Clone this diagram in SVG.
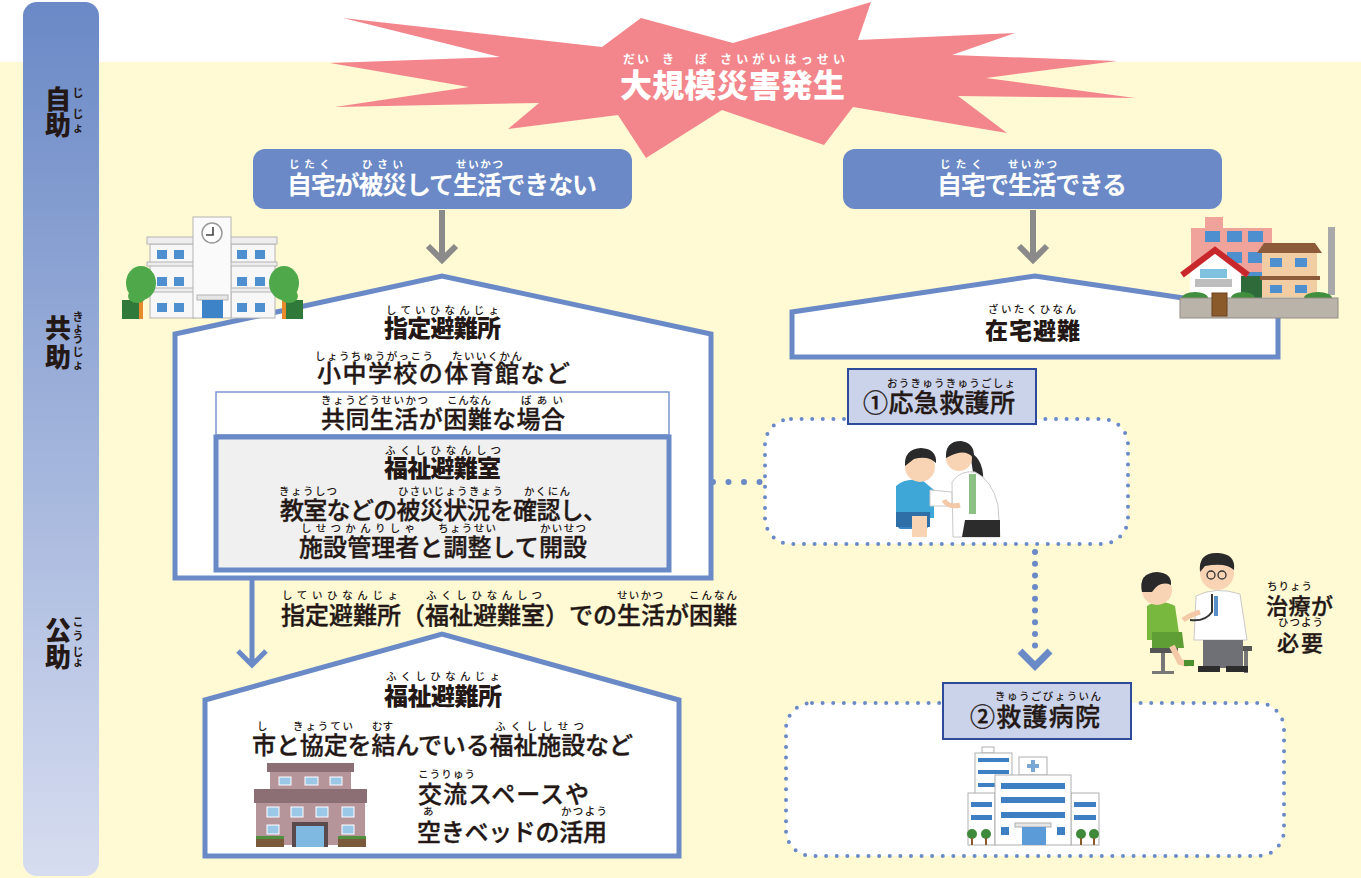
<svg xmlns="http://www.w3.org/2000/svg" width="1361" height="878" viewBox="0 0 1361 878">
<defs>
  <linearGradient id="sideGrad" x1="0" y1="0" x2="0" y2="1">
    <stop offset="0" stop-color="#6A89C6"/>
    <stop offset="1" stop-color="#D7DDF0"/>
  </linearGradient>
</defs>
<style>
  text { font-family: "Noto Sans CJK JP", "Noto Sans CJK SC", sans-serif; fill: #231815; }
  .rb { font-size: 10.5px; font-weight: 500; }
  .m { font-size: 24px; font-weight: 500; stroke: #231815; stroke-width: 0.35; }
  .h { font-size: 24px; font-weight: 900; }
  .w { fill: #ffffff; }
  .side { font-size: 26px; font-weight: 900; }
  .srb { font-size: 11px; font-weight: 700; }
  .house { fill: #ffffff; stroke: #6A89C7; stroke-width: 5; }
  .tag { fill: #CBD3EB; stroke: #2D4A9B; stroke-width: 2; }
  .dotbox { fill: #ffffff; stroke: #6A89C7; stroke-width: 4; stroke-dasharray: 0 10.6; stroke-linecap: round; }
  .bluebox { fill: #6A89C6; }
  .gray-arrow { fill: none; stroke: #8A8A8A; stroke-width: 6; }
  .blue-arrow { fill: none; stroke: #6A89C7; stroke-width: 5; }
  .dots { fill: none; stroke: #6A89C7; stroke-width: 6; stroke-linecap: round; }
  .win { fill: #4D8FCF; }
  .skin { fill: #F8D4B4; }
  .hair { fill: #2A2A2A; }
</style>

<!-- background -->
<rect x="0" y="0" width="1361" height="878" fill="#ffffff"/>
<rect x="0" y="62" width="1361" height="816" fill="#FFF9D4"/>

<!-- side band -->
<g id="side-band">
  <rect x="23" y="2" width="76" height="874" rx="14" fill="url(#sideGrad)"/>
  <text class="side" x="58" y="109" text-anchor="middle">自</text>
  <text class="side" x="58" y="135" text-anchor="middle">助</text>
  <text class="srb" x="78" y="97" text-anchor="middle">じ</text>
  <text class="srb" x="78" y="118" text-anchor="middle">じ</text>
  <text class="srb" x="78" y="132" text-anchor="middle">ょ</text>

  <text class="side" x="58" y="338" text-anchor="middle">共</text>
  <text class="side" x="58" y="367" text-anchor="middle">助</text>
  <text class="srb" x="78" y="321" text-anchor="middle">き</text>
  <text class="srb" x="78" y="332" text-anchor="middle">ょ</text>
  <text class="srb" x="78" y="343" text-anchor="middle">う</text>
  <text class="srb" x="78" y="356" text-anchor="middle">じ</text>
  <text class="srb" x="78" y="369" text-anchor="middle">ょ</text>

  <text class="side" x="58" y="640" text-anchor="middle">公</text>
  <text class="side" x="58" y="667" text-anchor="middle">助</text>
  <text class="srb" x="78" y="626" text-anchor="middle">こ</text>
  <text class="srb" x="78" y="640" text-anchor="middle">う</text>
  <text class="srb" x="78" y="656" text-anchor="middle">じ</text>
  <text class="srb" x="78" y="666" text-anchor="middle">ょ</text>
</g>

<!-- disaster burst -->
<g id="disaster">
  <polygon fill="#F3868C" points="343,18 602,47 641,18 733,43 871,2 858,40 1015,33 952,55 1117,61 986,78 1135,98 958,96 1007,133 853,107 824,145 722,110 646,158 618,115 508,129 539,103 335,107 469,87 330,63 500,57"/>
  <text class="rb w" x="623" y="64" textLength="26" style="font-size:12px;font-weight:700">だい</text>
  <text class="rb w" x="662" y="64" style="font-size:12px;font-weight:700">き</text>
  <text class="rb w" x="695" y="64" style="font-size:12px;font-weight:700">ぼ</text>
  <text class="rb w" x="720" y="64" textLength="125" style="font-size:12px;font-weight:700">さいがいはっせい</text>
  <text class="w" x="620" y="97" textLength="225" style="font-size:32px;font-weight:900">大規模災害発生</text>
</g>

<!-- left case heading -->
<g id="cannot-live-home">
  <rect class="bluebox" x="253" y="149" width="379" height="60" rx="12"/>
  <text class="rb w" x="289" y="168" textLength="41" style="font-weight:700">じたく</text>
  <text class="rb w" x="362" y="168" textLength="41" style="font-weight:700">ひさい</text>
  <text class="rb w" x="456" y="168" textLength="47" style="font-weight:700">せいかつ</text>
  <text class="w" x="287" y="194" textLength="310" style="font-size:25px;font-weight:700">自宅が被災して生活できない</text>
</g>

<!-- right case heading -->
<g id="can-live-home">
  <rect class="bluebox" x="843" y="149" width="379" height="60" rx="12"/>
  <text class="rb w" x="940" y="168" textLength="42" style="font-weight:700">じたく</text>
  <text class="rb w" x="1008" y="168" textLength="49" style="font-weight:700">せいかつ</text>
  <text class="w" x="937" y="194" textLength="190" style="font-size:25px;font-weight:700">自宅で生活できる</text>
</g>

<!-- designated shelter -->
<g id="designated-shelter">
  <polygon class="house" points="175,578 175,334 442,276 711,334 711,578"/>
  <text class="rb" x="386" y="314" textLength="113">していひなんじょ</text>
  <text class="h" x="384" y="337" textLength="117">指定避難所</text>
  <text class="rb" x="315" y="360" textLength="118">しょうちゅうがっこう</text>
  <text class="rb" x="452" y="360" textLength="70">たいいくかん</text>
  <text class="m" x="317" y="382" textLength="253">小中学校の体育館など</text>

  <rect x="216" y="392" width="453" height="43" fill="#ffffff" stroke="#7D97CF" stroke-width="1.5"/>
  <text class="rb" x="321" y="404" textLength="107">きょうどうせいかつ</text>
  <text class="rb" x="447" y="404" textLength="44">こんなん</text>
  <text class="rb" x="521" y="404" textLength="42">ばあい</text>
  <text class="m" x="321" y="428" textLength="244">共同生活が困難な場合</text>
</g>

<!-- welfare room inside the shelter -->
<g id="welfare-room">
  <rect x="216" y="437" width="453" height="133" fill="#F0F0F0" stroke="#6A89C7" stroke-width="5"/>
  <text class="rb" x="385" y="454" textLength="116">ふくしひなんしつ</text>
  <text class="h" x="384" y="477" textLength="117">福祉避難室</text>
  <text class="rb" x="279" y="495" textLength="58">きょうしつ</text>
  <text class="rb" x="398" y="495" textLength="105">ひさいじょうきょう</text>
  <text class="rb" x="524" y="495" textLength="46">かくにん</text>
  <text class="m" x="280" y="519" textLength="327">教室などの被災状況を確認し、</text>
  <text class="rb" x="301" y="532" textLength="114">しせつかんりしゃ</text>
  <text class="rb" x="438" y="532" textLength="58">ちょうせい</text>
  <text class="rb" x="540" y="532" textLength="46">かいせつ</text>
  <text class="m" x="299" y="556" textLength="288">施設管理者と調整して開設</text>
</g>

<!-- school picture -->
<g id="school">
  <rect x="122" y="300" width="17" height="19" fill="#2F7A3B"/>
  <rect x="285" y="300" width="18" height="19" fill="#2F7A3B"/>
  <rect x="150" y="244" width="45" height="74" fill="#F7F7F7" stroke="#B4B4B4"/>
  <rect x="231" y="244" width="44" height="74" fill="#F7F7F7" stroke="#B4B4B4"/>
  <rect x="147" y="237" width="48" height="7" fill="#EDEDED" stroke="#B4B4B4"/>
  <rect x="229" y="237" width="48" height="7" fill="#EDEDED" stroke="#B4B4B4"/>
  <rect x="147" y="262" width="48" height="4" fill="#EDEDED" stroke="#B4B4B4"/>
  <rect x="229" y="262" width="48" height="4" fill="#EDEDED" stroke="#B4B4B4"/>
  <rect x="147" y="288" width="48" height="4" fill="#EDEDED" stroke="#B4B4B4"/>
  <rect x="229" y="288" width="48" height="4" fill="#EDEDED" stroke="#B4B4B4"/>
  <rect x="193" y="217" width="38" height="101" fill="#FAFAFA" stroke="#B4B4B4"/>
  <circle cx="212" cy="233" r="10" fill="#ffffff" stroke="#9A9A9A" stroke-width="1.5"/>
  <path d="M213,227 V235 H206" fill="none" stroke="#444" stroke-width="1.6"/>
  <rect class="win" x="157" y="250" width="10" height="9"/>
  <rect class="win" x="174" y="250" width="10" height="9"/>
  <rect class="win" x="237" y="250" width="10" height="9"/>
  <rect class="win" x="255" y="250" width="10" height="9"/>
  <rect class="win" x="157" y="277" width="10" height="9"/>
  <rect class="win" x="174" y="277" width="10" height="9"/>
  <rect class="win" x="237" y="277" width="10" height="9"/>
  <rect class="win" x="255" y="277" width="10" height="9"/>
  <rect class="win" x="157" y="303" width="10" height="9"/>
  <rect class="win" x="174" y="303" width="10" height="9"/>
  <rect class="win" x="237" y="303" width="10" height="9"/>
  <rect class="win" x="255" y="303" width="10" height="9"/>
  <rect x="197" y="295" width="31" height="5" fill="#E6E6E6" stroke="#B4B4B4"/>
  <rect x="202" y="300" width="21" height="18" fill="#3D83C8"/>
  <rect x="139" y="292" width="4" height="27" fill="#E8892B"/>
  <ellipse cx="141" cy="283" rx="15" ry="17" fill="#4FA84A"/>
  <ellipse cx="137" cy="296" rx="9" ry="7" fill="#4FA84A"/>
  <rect x="282" y="292" width="4" height="27" fill="#E8892B"/>
  <ellipse cx="284" cy="283" rx="15" ry="17" fill="#4FA84A"/>
  <ellipse cx="289" cy="296" rx="9" ry="7" fill="#4FA84A"/>
</g>

<!-- stay at home -->
<g id="home-shelter">
  <polygon class="house" points="792,357 792,312 1035,276 1278,312 1278,357"/>
  <text class="rb" x="988" y="313" textLength="88">ざいたくひなん</text>
  <text class="h" x="985" y="339" textLength="95" style="font-size:23px">在宅避難</text>
</g>

<!-- houses picture -->
<g id="houses">
  <rect x="1205" y="217" width="18" height="12" fill="#EFA39A"/>
  <rect x="1191" y="228" width="81" height="69" fill="#EFA39A"/>
  <rect class="win" x="1205" y="231" width="15" height="11"/>
  <rect class="win" x="1227" y="231" width="15" height="11"/>
  <rect class="win" x="1248" y="231" width="15" height="11"/>
  <rect class="win" x="1227" y="252" width="15" height="11"/>
  <rect class="win" x="1248" y="252" width="15" height="11"/>
  <rect class="win" x="1248" y="272" width="15" height="11"/>
  <rect x="1240" y="276" width="22" height="24" fill="#2F6B3A"/>
  <rect x="1262" y="250" width="55" height="47" fill="#F2CDA4"/>
  <polygon points="1257,253 1264,243 1315,243 1322,253" fill="#8E5B3A"/>
  <rect x="1260" y="276" width="60" height="4" fill="#8E5B3A"/>
  <rect class="win" x="1270" y="258" width="12" height="9"/>
  <rect class="win" x="1295" y="258" width="12" height="9"/>
  <rect class="win" x="1270" y="285" width="12" height="8"/>
  <rect class="win" x="1295" y="285" width="12" height="8"/>
  <rect x="1328" y="227" width="7" height="68" fill="#A9A9A9"/>
  <polygon points="1190,300 1190,267 1215,252 1241,267 1241,300" fill="#ffffff"/>
  <rect x="1200" y="269" width="27" height="9" fill="#7FC2E0"/>
  <rect x="1195" y="279" width="37" height="8" fill="#BDBDBD"/>
  <polyline points="1182,275 1215,250 1248,275" fill="none" stroke="#C8282C" stroke-width="6"/>
  <ellipse cx="1195" cy="298" rx="13" ry="6" fill="#3F8F3E"/>
  <ellipse cx="1243" cy="298" rx="12" ry="6" fill="#3F8F3E"/>
  <ellipse cx="1318" cy="298" rx="14" ry="6" fill="#3F8F3E"/>
  <rect x="1180" y="298" width="158" height="20" fill="#BAB3AA" stroke="#948C83"/>
  <rect x="1212" y="293" width="15" height="23" fill="#8B5A2B" stroke="#6B421D"/>
</g>

<!-- first aid station -->
<g id="first-aid">
  <rect class="dotbox" x="765" y="419" width="363" height="125" rx="26"/>
  <rect class="tag" x="848" y="369" width="188" height="55"/>
  <text class="rb" x="887" y="387" textLength="128">おうきゅうきゅうごしょ</text>
  <text class="m" x="863" y="412" textLength="152" style="font-size:25px">①応急救護所</text>
  <!-- boy getting first aid -->
  <rect x="898" y="522" width="30" height="7" rx="3" fill="#3B83C1"/>
  <path d="M896,486 Q905,478 922,480 L934,490 L934,518 L896,518 Z" fill="#3FA6D8"/>
  <path d="M896,512 L930,512 L930,527 L896,527 Z" fill="#2F6FA8"/>
  <rect class="skin" x="912" y="516" width="15" height="21"/>
  <circle class="skin" cx="920" cy="467" r="15"/>
  <path d="M905,466 Q904,449 921,448 Q937,449 936,463 Q928,455 914,459 Z" class="hair"/>
  <path d="M930,490 L952,492 L952,506 L930,506 Z" fill="#ffffff" stroke="#C9C9C9"/>
  <!-- nurse -->
  <path d="M970,452 Q985,460 983,485 L975,486 Z" class="hair"/>
  <path d="M952,482 Q960,470 975,472 Q992,480 998,505 L1000,537 L953,537 Z" fill="#ffffff" stroke="#C9C9C9"/>
  <rect x="969" y="474" width="7" height="40" fill="#8CC084"/>
  <path d="M960,505 Q948,508 944,500" fill="none" stroke="#F3C9A7" stroke-width="5"/>
  <path d="M965,520 L1000,520 L1000,537 L962,537 Z" fill="#2C2C2C"/>
  <circle class="skin" cx="959" cy="458" r="13"/>
  <path d="M946,458 Q945,441 961,441 Q975,443 974,458 Q965,448 950,456 Z" class="hair"/>
</g>

<!-- doctor consultation picture and label -->
<g id="treatment-needed">
  <rect x="1150" y="648" width="28" height="5" fill="#555"/>
  <rect x="1161" y="653" width="4" height="20" fill="#777"/>
  <rect x="1152" y="671" width="22" height="3" fill="#777"/>
  <rect x="1230" y="646" width="22" height="5" fill="#555"/>
  <rect x="1244" y="651" width="4" height="22" fill="#777"/>
  <path d="M1147,606 Q1160,598 1175,606 L1180,640 L1147,640 Z" fill="#79B83F"/>
  <path d="M1152,632 L1182,632 L1184,648 L1152,648 Z" fill="#5E9E34"/>
  <path d="M1172,646 L1180,662 L1188,664" fill="none" stroke="#F3C9A7" stroke-width="6"/>
  <rect x="1184" y="660" width="10" height="6" fill="#4C8F2E"/>
  <circle class="skin" cx="1157" cy="590" r="15"/>
  <path d="M1142,592 Q1138,573 1157,572 Q1172,573 1171,585 Q1160,580 1152,592 Z" class="hair"/>
  <path d="M1196,596 Q1215,586 1240,594 L1247,640 L1194,640 Z" fill="#ffffff" stroke="#C9C9C9"/>
  <path d="M1203,640 L1243,640 L1243,668 L1203,668 Z" fill="#6E7075"/>
  <rect x="1198" y="666" width="22" height="6" fill="#2C2C2C"/>
  <rect x="1226" y="666" width="22" height="6" fill="#2C2C2C"/>
  <path d="M1212,594 L1212,612 Q1205,622 1190,620" fill="none" stroke="#333" stroke-width="2"/>
  <path d="M1200,612 Q1190,615 1183,620" fill="none" stroke="#F3C9A7" stroke-width="5"/>
  <rect x="1214" y="596" width="4" height="20" fill="#5A8FC8"/>
  <circle class="skin" cx="1217" cy="573" r="17"/>
  <path d="M1200,572 Q1198,552 1218,553 Q1236,554 1234,570 Q1226,562 1205,566 Z" class="hair"/>
  <circle cx="1211" cy="575" r="4" fill="none" stroke="#333" stroke-width="1.3"/>
  <circle cx="1222" cy="575" r="4" fill="none" stroke="#333" stroke-width="1.3"/>
  <text class="rb" x="1267" y="590" textLength="45">ちりょう</text>
  <text class="m" x="1266" y="614" textLength="67" style="font-size:22px">治療が</text>
  <text class="rb" x="1278" y="626" textLength="45">ひつよう</text>
  <text class="m" x="1277" y="651" textLength="46" style="font-size:22px">必要</text>
</g>

<!-- rescue hospital -->
<g id="hospital">
  <rect class="dotbox" x="786" y="703" width="498" height="153" rx="26"/>
  <rect class="tag" x="943" y="683" width="188" height="56"/>
  <text class="rb" x="995" y="700" textLength="106">きゅうごびょういん</text>
  <text class="m" x="970" y="726" textLength="130" style="font-size:25px">②救護病院</text>
  <rect x="982" y="747" width="12" height="6" fill="#fff" stroke="#AFAFAF"/>
  <rect x="975" y="753" width="37" height="44" fill="#fff" stroke="#AFAFAF"/>
  <rect x="978" y="758" width="31" height="4" fill="#3E7FC4"/>
  <rect x="978" y="770" width="31" height="4" fill="#3E7FC4"/>
  <rect x="978" y="783" width="31" height="4" fill="#3E7FC4"/>
  <rect x="1019" y="757" width="28" height="18" fill="#fff" stroke="#AFAFAF"/>
  <path d="M1033,760 V772 M1027,766 H1039" stroke="#7BA7D6" stroke-width="4"/>
  <rect x="968" y="793" width="27" height="52" fill="#fff" stroke="#AFAFAF"/>
  <rect x="1071" y="793" width="28" height="52" fill="#fff" stroke="#AFAFAF"/>
  <rect x="995" y="775" width="76" height="70" fill="#fff" stroke="#AFAFAF"/>
  <rect x="1001" y="783" width="64" height="6" fill="#3E7FC4"/>
  <rect x="1001" y="797" width="64" height="6" fill="#3E7FC4"/>
  <rect x="1001" y="812" width="64" height="6" fill="#3E7FC4"/>
  <rect x="971" y="802" width="21" height="5" fill="#3E7FC4"/>
  <rect x="971" y="815" width="21" height="5" fill="#3E7FC4"/>
  <rect x="1074" y="802" width="22" height="5" fill="#3E7FC4"/>
  <rect x="1074" y="815" width="22" height="5" fill="#3E7FC4"/>
  <rect x="1001" y="827" width="8" height="8" fill="#3E7FC4"/>
  <rect x="1057" y="827" width="8" height="8" fill="#3E7FC4"/>
  <rect x="1015" y="823" width="36" height="4" fill="#E6E6E6" stroke="#AFAFAF"/>
  <rect x="1022" y="827" width="24" height="18" fill="#5A9BD8"/>
  <g fill="#3F8A3A">
    <circle cx="972" cy="834" r="5"/><circle cx="986" cy="834" r="5"/>
    <circle cx="1081" cy="834" r="5"/><circle cx="1094" cy="834" r="5"/>
  </g>
  <g fill="#8A5A2B">
    <rect x="971" y="838" width="2" height="7"/><rect x="985" y="838" width="2" height="7"/>
    <rect x="1080" y="838" width="2" height="7"/><rect x="1093" y="838" width="2" height="7"/>
  </g>
</g>

<!-- welfare shelter -->
<g id="welfare-shelter">
  <polygon class="house" points="205,856 205,700 442,634 679,700 679,856"/>
  <text class="rb" x="386" y="680" textLength="114">ふくしひなんじょ</text>
  <text class="h" x="384" y="705" textLength="118">福祉避難所</text>
  <text class="rb" x="257" y="730">し</text>
  <text class="rb" x="293" y="730" textLength="60">きょうてい</text>
  <text class="rb" x="372" y="730" textLength="21">むす</text>
  <text class="rb" x="495" y="730" textLength="89">ふくししせつ</text>
  <text class="m" x="252" y="754" textLength="381">市と協定を結んでいる福祉施設など</text>
  <text class="rb" x="418" y="778" textLength="57">こうりゅう</text>
  <text class="m" x="418" y="803" textLength="171">交流スペースや</text>
  <text class="rb" x="423" y="815">あ</text>
  <text class="rb" x="561" y="815" textLength="46">かつよう</text>
  <text class="m" x="417" y="841" textLength="190">空きベッドの活用</text>
  <!-- facility building -->
  <rect x="267" y="763" width="87" height="9" fill="#8C6E75"/>
  <rect x="270" y="772" width="81" height="17" fill="#B5949A"/>
  <rect x="279" y="777" width="12" height="8" fill="#9CC8E8" stroke="#fff"/>
  <rect x="305" y="777" width="13" height="8" fill="#9CC8E8" stroke="#fff"/>
  <rect x="330" y="777" width="12" height="8" fill="#9CC8E8" stroke="#fff"/>
  <rect x="254" y="789" width="113" height="14" fill="#8C6E75"/>
  <rect x="256" y="803" width="109" height="42" fill="#B5949A"/>
  <rect x="267" y="807" width="12" height="10" fill="#9CC8E8" stroke="#fff"/>
  <rect x="291" y="807" width="12" height="10" fill="#9CC8E8" stroke="#fff"/>
  <rect x="316" y="807" width="12" height="10" fill="#9CC8E8" stroke="#fff"/>
  <rect x="342" y="807" width="12" height="10" fill="#9CC8E8" stroke="#fff"/>
  <rect x="267" y="825" width="12" height="9" fill="#9CC8E8" stroke="#fff"/>
  <rect x="342" y="825" width="12" height="9" fill="#9CC8E8" stroke="#fff"/>
  <rect x="292" y="822" width="36" height="25" fill="#5A4A4E"/>
  <rect x="296" y="826" width="28" height="21" fill="#7FB8E0"/>
  <rect x="256" y="838" width="28" height="9" fill="#7A5A3A"/>
  <rect x="338" y="838" width="28" height="9" fill="#7A5A3A"/>
  <rect x="256" y="836" width="28" height="3" fill="#4F8F3E"/>
  <rect x="338" y="836" width="28" height="3" fill="#4F8F3E"/>
</g>

<!-- transition label -->
<g id="shelter-difficult">
  <text class="rb" x="282" y="599" textLength="116">していひなんじょ</text>
  <text class="rb" x="426" y="599" textLength="116">ふくしひなんしつ</text>
  <text class="rb" x="617" y="599" textLength="46">せいかつ</text>
  <text class="rb" x="689" y="599" textLength="48">こんなん</text>
  <text class="m" x="281" y="624" textLength="456">指定避難所（福祉避難室）での生活が困難</text>
</g>

<!-- connectors -->
<g id="connectors">
  <path class="gray-arrow" d="M442,210 V259 M428,246 L442,260 L456,246"/>
  <path class="gray-arrow" d="M1033,210 V259 M1019,246 L1033,260 L1047,246"/>
  <path class="blue-arrow" d="M252,580 V664 M238,651 L252,665 L266,651"/>
  <path class="dots" d="M713,482 H765" stroke-dasharray="0 15.5"/>
  <path class="dots" d="M1035,552 V646" stroke-dasharray="0 11.7"/>
  <path d="M1020,651 L1035,666 L1050,651" fill="none" stroke="#6A89C7" stroke-width="7"/>
</g>
</svg>
